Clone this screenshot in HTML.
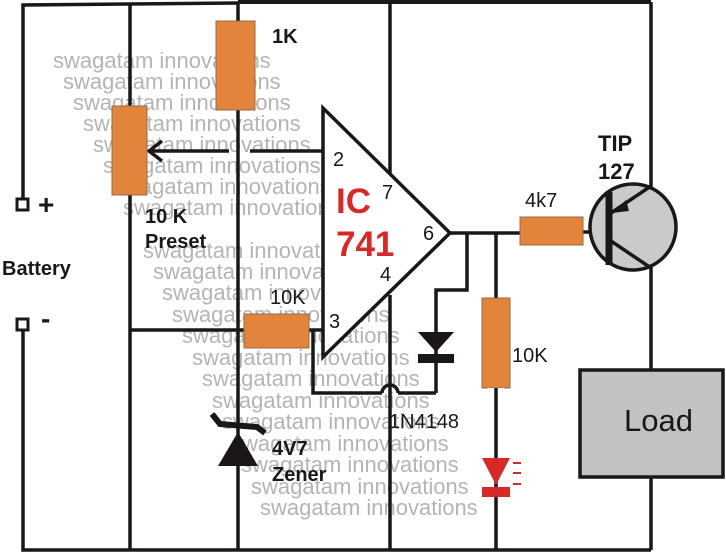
<!DOCTYPE html>
<html><head><meta charset="utf-8"><style>
html,body{margin:0;padding:0;background:#fff;}
svg{display:block;}
</style></head><body>
<svg width="726" height="554" viewBox="0 0 726 554" xmlns="http://www.w3.org/2000/svg" font-family="Liberation Sans, Arial, sans-serif">
<rect width="726" height="554" fill="#fff"/>
<g fill="#b4b4b4" font-size="22">
<text x="53" y="68">swagatam innovations</text>
<text x="63" y="89">swagatam innovations</text>
<text x="73" y="110">swagatam innovations</text>
<text x="83" y="131">swagatam innovations</text>
<text x="93" y="152">swagatam innovations</text>
<text x="103" y="173">swagatam innovations</text>
<text x="113" y="194">swagatam innovations</text>
<text x="123" y="215">swagatam innovations</text>
<text x="143" y="258">swagatam innovations</text>
<text x="153" y="279">swagatam innovations</text>
<text x="162" y="300">swagatam innovations</text>
<text x="172" y="322">swagatam innovations</text>
<text x="182" y="343">swagatam innovations</text>
<text x="192" y="365">swagatam innovations</text>
<text x="202" y="386">swagatam innovations</text>
<text x="212" y="408">swagatam innovations</text>
<text x="222" y="429">swagatam innovations</text>
<text x="231" y="451">swagatam innovations</text>
<text x="241" y="472">swagatam innovations</text>
<text x="251" y="494">swagatam innovations</text>
<text x="260" y="515">swagatam innovations</text>
</g>
<g stroke="#1a1716" stroke-width="3.5" fill="none">
<polyline points="23,205 23,5 130,4 238,3"/>
<line x1="238" y1="2" x2="651" y2="2" stroke-width="4"/>
<polyline points="23,325 23,550 651,550"/>
<line x1="130" y1="4" x2="130" y2="550"/>
<line x1="238" y1="3" x2="238" y2="550"/>
<line x1="390" y1="2" x2="390" y2="173"/>
<line x1="651" y1="2" x2="651" y2="190"/>
<line x1="651" y1="262" x2="651" y2="370"/>
<line x1="651" y1="478" x2="651" y2="550"/>
<line x1="149" y1="151" x2="229" y2="151"/>
<polyline points="162,141 149,151 162,161"/>
<line x1="250" y1="151" x2="322" y2="151"/>
<line x1="130" y1="330" x2="322" y2="330"/>
<polyline points="313,330 313,393 382,393"/>
<path d="M382,393 A8,8 0 0 1 398,393"/>
<line x1="398" y1="393" x2="436" y2="393"/>
<line x1="390" y1="295" x2="390" y2="550"/>
<line x1="450" y1="233" x2="520" y2="233"/>
<polyline points="467,233 467,290 436,290 436,393"/>
<line x1="496" y1="233" x2="496" y2="550"/>
<line x1="583" y1="232" x2="592" y2="232"/>
</g>
<polygon points="323,108 323,357 450,233" fill="#fff" stroke="#1a1716" stroke-width="3.5"/>
<g fill="#e3843d" stroke="#9a6a40" stroke-width="1">
<rect x="216" y="21" width="39" height="89"/>
<rect x="112" y="106" width="35" height="89"/>
<rect x="244" y="314" width="65" height="34"/>
<rect x="520" y="217" width="63" height="28"/>
<rect x="482" y="298" width="28" height="90"/>
</g>
<rect x="17" y="199" width="11" height="11" fill="#fff" stroke="#1a1716" stroke-width="3"/>
<rect x="17" y="319" width="11" height="11" fill="#fff" stroke="#1a1716" stroke-width="3"/>
<polygon points="418,332 454,332 436,352" fill="#1a1716"/>
<rect x="418" y="354" width="36" height="9" fill="#1a1716"/>
<polygon points="238,432 218,466 258,466" fill="#1a1716"/>
<polyline points="212,414 220,424 257,427 265,433" fill="none" stroke="#1a1716" stroke-width="6"/>
<rect x="488" y="388" width="16" height="72" fill="#fff"/>
<line x1="496" y1="388" x2="496" y2="460" stroke="#1a1716" stroke-width="3.5"/>
<polygon points="482,458 510,458 496,485" fill="#d62a2a"/>
<rect x="482" y="487" width="28" height="10" fill="#d62a2a"/>
<g stroke="#d62a2a" stroke-width="2"><line x1="513" y1="463" x2="521" y2="463"/><line x1="513" y1="473" x2="521" y2="473"/><line x1="513" y1="484" x2="521" y2="484"/></g>
<circle cx="633" cy="227" r="43" fill="#cbc9cc" stroke="#1a1716" stroke-width="3.5"/>
<line x1="609" y1="192" x2="609" y2="265" stroke="#1a1716" stroke-width="7"/>
<line x1="611" y1="213" x2="651" y2="186" stroke="#1a1716" stroke-width="3.5"/>
<line x1="611" y1="241" x2="651" y2="268" stroke="#1a1716" stroke-width="3.5"/>
<polygon points="612,213 626,200 629,211" fill="#1a1716"/>
<rect x="580" y="370" width="143" height="107" fill="#c3c1c4" stroke="#1a1716" stroke-width="3.5"/>
<text x="624" y="431" font-size="31" fill="#1a1716">Load</text>
<g fill="#1a1716" font-weight="bold" font-size="20">
<text x="272" y="43">1K</text>
<text x="145" y="223">10 K</text>
<text x="145" y="248">Preset</text>
<text x="2" y="275">Battery</text>
<text x="38" y="214" font-size="28">+</text>
<text x="41" y="328" font-size="28">-</text>
<text x="598" y="151" font-size="22">TIP</text>
<text x="598" y="179" font-size="22">127</text>
<text x="272" y="455">4V7</text>
<text x="272" y="481">Zener</text>
</g>
<g fill="#1a1716" font-size="20">
<text x="333" y="166">2</text>
<text x="382" y="199">7</text>
<text x="423" y="240">6</text>
<text x="380" y="281">4</text>
<text x="329" y="328">3</text>
<text x="525" y="207">4k7</text>
<text x="270" y="304">10K</text>
<text x="512" y="362">10K</text>
<text x="389" y="428">1N4148</text>
</g>
<g fill="#d62a2a" font-weight="bold" font-size="35">
<text x="336" y="213">IC</text>
<text x="336" y="256">741</text>
</g>
</svg>
</body></html>
